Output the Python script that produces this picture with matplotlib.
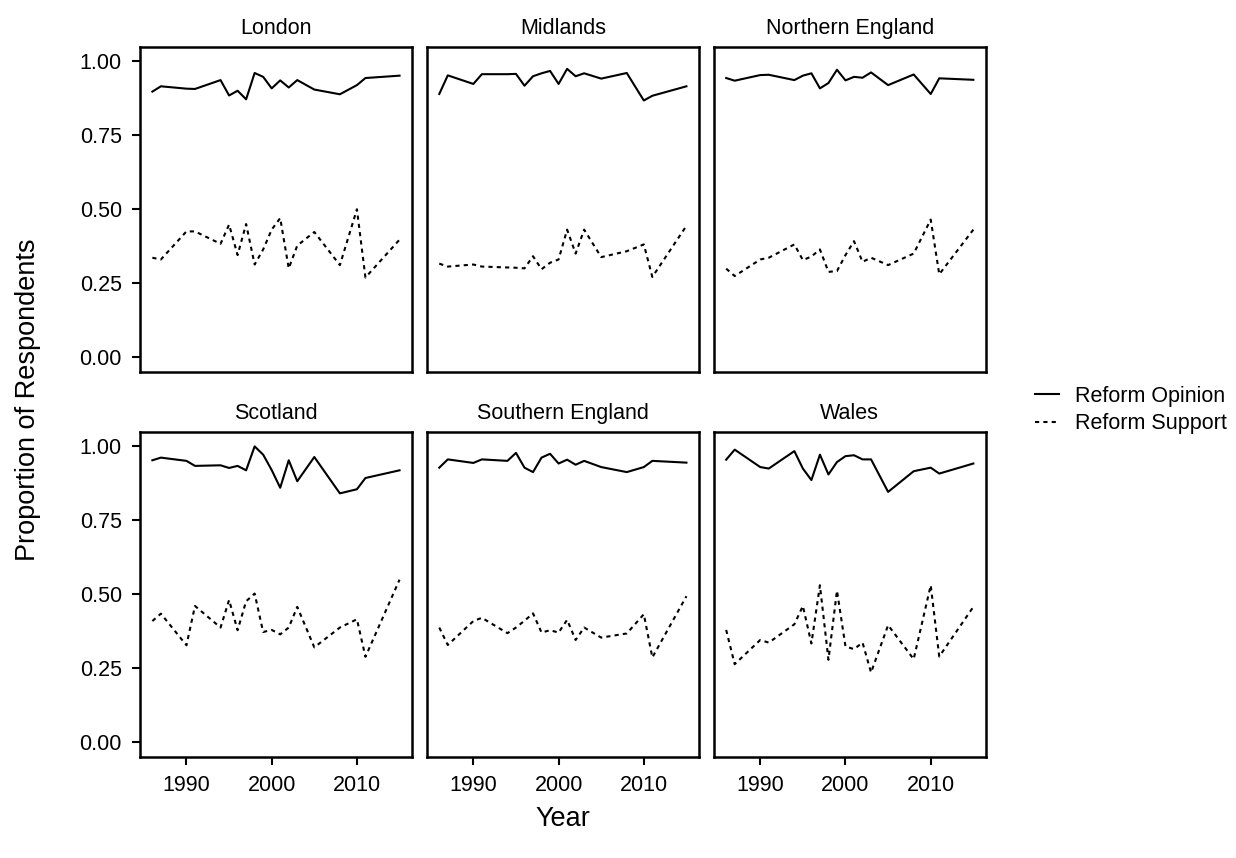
import matplotlib as mpl
import matplotlib.pyplot as plt
from matplotlib.lines import Line2D

plt.rcParams['font.family'] = ['Liberation Sans', 'DejaVu Sans']

years = [1986, 1987, 1990, 1991, 1994, 1995, 1996, 1997, 1998, 1999,
         2000, 2001, 2002, 2003, 2005, 2008, 2010, 2011, 2015]

regions = ["London", "Midlands", "Northern England",
           "Scotland", "Southern England", "Wales"]

# Reform Opinion (solid) per region
opinion_london = [0.898, 0.916, 0.908, 0.907, 0.937, 0.885, 0.901, 0.872, 0.961, 0.948,
                  0.909, 0.936, 0.912, 0.937, 0.905, 0.889, 0.920, 0.944, 0.952]
opinion_midlands = [0.890, 0.953, 0.924, 0.957, 0.957, 0.958, 0.918, 0.950, 0.960, 0.968,
                    0.924, 0.975, 0.950, 0.960, 0.942, 0.961, 0.868, 0.884, 0.916]
opinion_north = [0.944, 0.935, 0.954, 0.955, 0.937, 0.952, 0.960, 0.909, 0.927, 0.972,
                 0.936, 0.948, 0.945, 0.963, 0.920, 0.956, 0.890, 0.943, 0.938]
opinion_scotland = [0.953, 0.962, 0.951, 0.934, 0.936, 0.927, 0.934, 0.919, 1.000, 0.972,
                    0.920, 0.860, 0.953, 0.882, 0.964, 0.841, 0.855, 0.893, 0.919]
opinion_south = [0.928, 0.956, 0.944, 0.956, 0.951, 0.978, 0.928, 0.913, 0.962, 0.975,
                 0.942, 0.955, 0.938, 0.951, 0.930, 0.913, 0.930, 0.951, 0.945]
opinion_wales = [0.955, 0.989, 0.930, 0.925, 0.984, 0.925, 0.886, 0.972, 0.905, 0.947,
                 0.967, 0.970, 0.956, 0.956, 0.846, 0.916, 0.928, 0.908, 0.942]

# Reform Support (dotted) per region
support_london = [0.336, 0.330, 0.425, 0.425, 0.383, 0.448, 0.345, 0.450, 0.313, 0.364,
                  0.431, 0.470, 0.300, 0.377, 0.423, 0.311, 0.500, 0.269, 0.397]
support_midlands = [0.316, 0.306, 0.313, 0.306, 0.303, 0.302, 0.300, 0.341, 0.297, 0.319,
                    0.330, 0.431, 0.350, 0.431, 0.338, 0.358, 0.381, 0.271, 0.444]
support_north = [0.299, 0.274, 0.330, 0.336, 0.381, 0.328, 0.340, 0.364, 0.288, 0.291,
                 0.345, 0.392, 0.322, 0.336, 0.311, 0.350, 0.465, 0.280, 0.431]
support_scotland = [0.409, 0.434, 0.327, 0.460, 0.387, 0.480, 0.378, 0.476, 0.502, 0.372,
                    0.379, 0.364, 0.387, 0.457, 0.320, 0.387, 0.415, 0.288, 0.549]
support_south = [0.387, 0.328, 0.409, 0.420, 0.368, 0.387, 0.410, 0.435, 0.370, 0.378,
                 0.370, 0.413, 0.345, 0.387, 0.353, 0.367, 0.432, 0.286, 0.493]
support_wales = [0.379, 0.263, 0.345, 0.336, 0.398, 0.460, 0.333, 0.530, 0.278, 0.512,
                 0.323, 0.314, 0.336, 0.235, 0.395, 0.280, 0.530, 0.289, 0.457]

opinion = [opinion_london, opinion_midlands, opinion_north,
           opinion_scotland, opinion_south, opinion_wales]
support = [support_london, support_midlands, support_north,
           support_scotland, support_south, support_wales]

W, H = 1236, 858
fig, axes = plt.subplots(2, 3, figsize=(W / 100, H / 100), dpi=100)
fig.subplots_adjust(left=140 / W, right=985.7 / W, top=1 - 46.7 / H,
                    bottom=1 - 756.7 / H, wspace=0.0552, hspace=0.184)

tick_fs = 15.5
dots = (0, (2, 2))
for i, ax in enumerate(axes.flat):
    ax.plot(years, opinion[i], color="black", lw=1.5)
    ax.plot(years, support[i], color="black", lw=1.5, linestyle=dots)
    ax.set_xlim(1984.55, 2016.45)
    ax.set_ylim(-0.05, 1.05)
    ax.set_xticks([1990, 2000, 2010])
    ax.set_yticks([0, 0.25, 0.5, 0.75, 1.0])
    ax.set_yticklabels(["0.00", "0.25", "0.50", "0.75", "1.00"])
    for s in ax.spines.values():
        s.set_linewidth(1.8)
    ax.tick_params(length=6, width=1.5, labelsize=tick_fs, pad=7, colors="black")
    ax.set_title(regions[i], fontsize=tick_fs, pad=9)
    r, c = divmod(i, 3)
    if c != 0:
        ax.tick_params(axis="y", left=False, labelleft=False)
    if r != 1:
        ax.tick_params(axis="x", bottom=False, labelbottom=False)

fig.text(562.9 / W, 1 - 819 / H, "Year", fontsize=19.5, ha="center", va="center")
fig.text(28 / W, 1 - 400 / H, "Proportion of Respondents", fontsize=19.5,
         rotation=90, ha="center", va="center")

handles = [Line2D([], [], color="black", lw=1.5),
           Line2D([], [], color="black", lw=1.5, linestyle=dots)]
fig.legend(handles, ["Reform Opinion", "Reform Support"], loc="center left",
           bbox_to_anchor=(1035 / W, 1 - 410 / H), frameon=False,
           fontsize=tick_fs, handlelength=1.1, handletextpad=0.75,
           labelspacing=0.3, borderpad=0, borderaxespad=0)

fig.savefig("out.png", dpi=100)
